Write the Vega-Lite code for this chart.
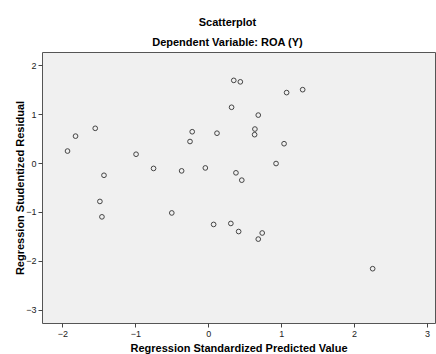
{
  "$schema": "https://vega.github.io/schema/vega-lite/v6.json",
  "autosize": {"type": "none"},
  "padding": {"left": 42, "top": 52, "right": 1, "bottom": 31},
  "width": 393,
  "height": 271,
  "background": "white",
  "title": {
    "text": "Scatterplot",
    "subtitle": "Dependent Variable: ROA (Y)",
    "anchor": "middle",
    "dx": -11,
    "offset": 4,
    "font": "Liberation Sans",
    "fontSize": 11,
    "fontWeight": "bold",
    "color": "#000000",
    "subtitleFont": "Liberation Sans",
    "subtitleFontSize": 11,
    "subtitleFontWeight": "bold",
    "subtitleColor": "#000000",
    "subtitlePadding": 9
  },
  "config": {
    "view": {"fill": "#F0F0F0", "stroke": "#555555", "strokeWidth": 1},
    "axis": {
      "grid": false,
      "domain": false,
      "tickColor": "#444444",
      "tickSize": 4,
      "labelFont": "Liberation Sans",
      "labelFontSize": 9,
      "labelColor": "#222222",
      "labelPadding": 2,
      "titleFont": "Liberation Sans",
      "titleFontSize": 11,
      "titleFontWeight": "bold",
      "titleColor": "#000000"
    }
  },
  "data": {
    "values": [
      {"pred": -1.93, "resid": 0.245},
      {"pred": -1.82, "resid": 0.55},
      {"pred": -1.55, "resid": 0.71},
      {"pred": -1.43, "resid": -0.25},
      {"pred": -0.99, "resid": 0.18},
      {"pred": -0.75, "resid": -0.11},
      {"pred": -0.365, "resid": -0.16},
      {"pred": -0.22, "resid": 0.64},
      {"pred": -0.25, "resid": 0.44},
      {"pred": -0.04, "resid": -0.10},
      {"pred": 0.12, "resid": 0.61},
      {"pred": 0.32, "resid": 1.14},
      {"pred": 0.35, "resid": 1.69},
      {"pred": 0.38, "resid": -0.20},
      {"pred": 0.44, "resid": 1.66},
      {"pred": 1.075, "resid": 1.44},
      {"pred": 1.295, "resid": 1.50},
      {"pred": 0.686, "resid": 0.98},
      {"pred": 0.64, "resid": 0.695},
      {"pred": 0.636, "resid": 0.58},
      {"pred": 1.04, "resid": 0.395},
      {"pred": 0.93, "resid": -0.01},
      {"pred": 0.46, "resid": -0.35},
      {"pred": -1.486, "resid": -0.785},
      {"pred": -1.458, "resid": -1.10},
      {"pred": -0.50, "resid": -1.02},
      {"pred": 0.074, "resid": -1.255},
      {"pred": 0.31, "resid": -1.235},
      {"pred": 0.417, "resid": -1.40},
      {"pred": 0.686, "resid": -1.555},
      {"pred": 0.74, "resid": -1.43},
      {"pred": 2.255, "resid": -2.16}
    ]
  },
  "mark": {"type": "point", "shape": "circle", "filled": false, "stroke": "#444444", "strokeWidth": 1, "size": 22, "opacity": 1},
  "encoding": {
    "x": {
      "field": "pred",
      "type": "quantitative",
      "title": "Regression Standardized Predicted Value",
      "scale": {"domain": [-2.28, 3.11], "nice": false, "zero": false},
      "axis": {"values": [-2, -1, 0, 1, 2, 3], "format": "d", "titlePadding": 4}
    },
    "y": {
      "field": "resid",
      "type": "quantitative",
      "title": "Regression Studentized Residual",
      "scale": {"domain": [-3.27, 2.27], "nice": false, "zero": false},
      "axis": {"values": [-3, -2, -1, 0, 1, 2], "format": "d", "titlePadding": 0}
    }
  }
}
